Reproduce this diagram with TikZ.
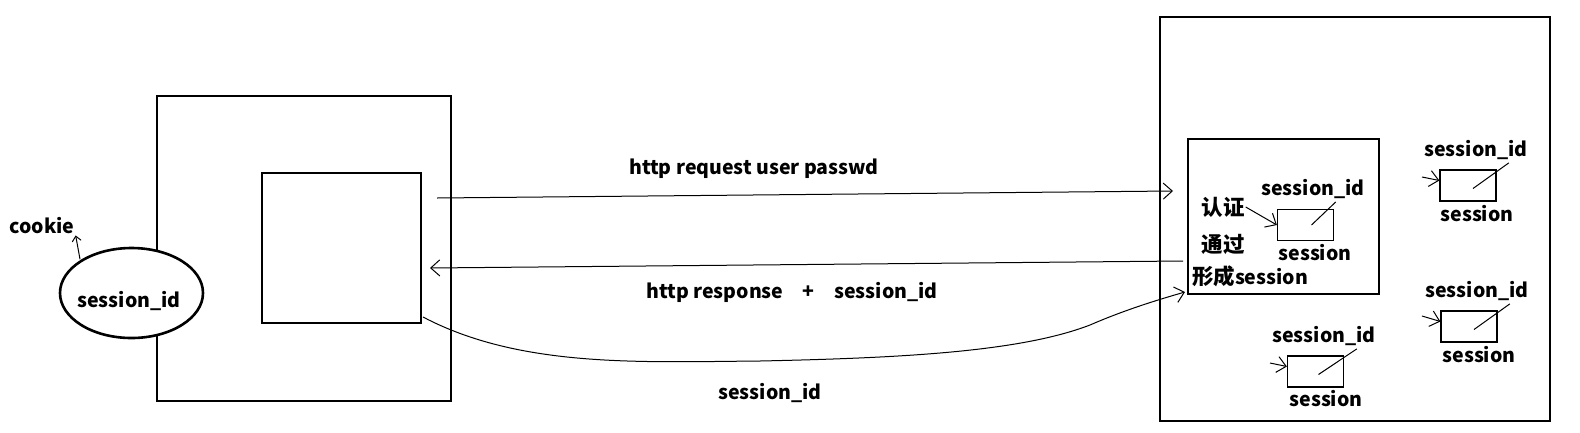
\documentclass[tikz,border=0pt]{standalone}
\usepackage{fontspec}
\setmainfont{Noto Sans CJK SC}
\usetikzlibrary{shapes.geometric,arrows.meta}

\begin{document}
\begin{tikzpicture}[x=1pt,y=-1pt,
	bigbox/.style={draw,line width=2.6pt,inner sep=0pt},
	smallbox/.style={draw,line width=1.2pt,inner sep=0pt,minimum width=56pt,minimum height=31pt},
	lbl/.style={inner sep=1pt,font=\fontsize{19.5}{22}\selectfont\bfseries},
	hanzi/.style={lbl,font=\fontsize{21.5}{24}\selectfont\bfseries},
	link/.style={line width=1pt},
	hand/.style={-{Straight Barb[length=9pt,width=16pt,line width=1pt]}}]
	\useasboundingbox (0,0) rectangle (1580,432);
	% client side
	\draw (304,248.5) node[bigbox,minimum width=294pt,minimum height=305pt] (client) {};
	\draw (341.5,248) node[bigbox,minimum width=159pt,minimum height=150pt] (browser) {};
	\draw (131.5,293) node[ellipse,draw,line width=2.6pt,fill=white,inner sep=0pt,
		minimum width=143pt,minimum height=90pt] (cookie) {};
	\draw (129,301) node[lbl] (cid) {session\_id};
	\draw (42,226) node[lbl] (cookielbl) {cookie};
	% server side
	\draw (1355,219) node[bigbox,minimum width=390pt,minimum height=404pt] (server) {};
	\draw (1283.5,216.5) node[bigbox,minimum width=191pt,minimum height=155pt] (auth) {};
	\draw (1223,207) node[hanzi] (rz) {认证};
	\draw (1223,244) node[hanzi] (tg) {通过};
	\draw (1250,276) node[lbl] (xc) {{\fontsize{21.5}{24}\selectfont 形成}session};
	\draw (1305.5,225) node[smallbox] (sA) {};
	\draw (1313,189) node[lbl] (sAid) {session\_id};
	\draw (1315,253) node[lbl] (sAs) {session};
	\draw (1468,185.5) node[smallbox] (sB) {};
	\draw (1476,150) node[lbl] (sBid) {session\_id};
	\draw (1477,214) node[lbl] (sBs) {session};
	\draw (1469,326.5) node[smallbox] (sC) {};
	\draw (1477,291) node[lbl] (sCid) {session\_id};
	\draw (1479,355) node[lbl] (sCs) {session};
	\draw (1315.5,371.5) node[smallbox] (sD) {};
	\draw (1324,336) node[lbl] (sDid) {session\_id};
	\draw (1326,399) node[lbl] (sDs) {session};
	% connectors
	\coordinate (reqA) at (437,198);
	\coordinate (reqB) at (1173,191);
	\coordinate (resA) at (1183,261);
	\coordinate (resB) at (430,268);
	\coordinate (sidA) at (423,317);
	\coordinate (sidB) at (1185,292);
	\draw[link,hand] (reqA) -- (reqB);
	\draw[link,hand] (resA) -- (resB);
	\draw[link,hand] (sidA) .. controls (520,368) and (640,362) .. (760,361)
		.. controls (900,358) and (1020,352) .. (1090,325)
		.. controls (1120,312) and (1150,302) .. (sidB);
	\draw (754,169) node[lbl] (reqlbl) {http request user passwd};
	\draw (792,292) node[lbl] (reslbl) {http response\quad +\quad session\_id};
	\draw (770,393) node[lbl] (sidlbl) {session\_id};
	\draw[link,-{Straight Barb[length=5pt,width=9pt]}] (cookie.north west) ++(0,-1) -- (cookielbl.south east);
	% session pointers
	\draw[link,hand] (rz.east) -- (sA.west);
	\draw[link] (sAid.south east) ++(-30,2) -- ([xshift=6pt]sA.center);
	\coordinate (inB) at (1422,177);
	\coordinate (inC) at (1422,316);
	\coordinate (inD) at (1270,363);
	\draw[link,hand] (inB) -- ([yshift=5pt]sB.west);
	\draw[link,hand] (inC) -- ([yshift=5pt]sC.west);
	\draw[link,hand] (inD) -- ([yshift=5pt]sD.west);
	\draw[link] (sBid.south east) ++(-20,2) -- ([xshift=5pt,yshift=-3pt]sB.center);
	\draw[link] (sCid.south east) ++(-20,2) -- ([xshift=5pt,yshift=-3pt]sC.center);
	\draw[link] (sDid.south east) ++(-20,2) -- ([xshift=3pt,yshift=-3pt]sD.center);
\end{tikzpicture}
\end{document}
